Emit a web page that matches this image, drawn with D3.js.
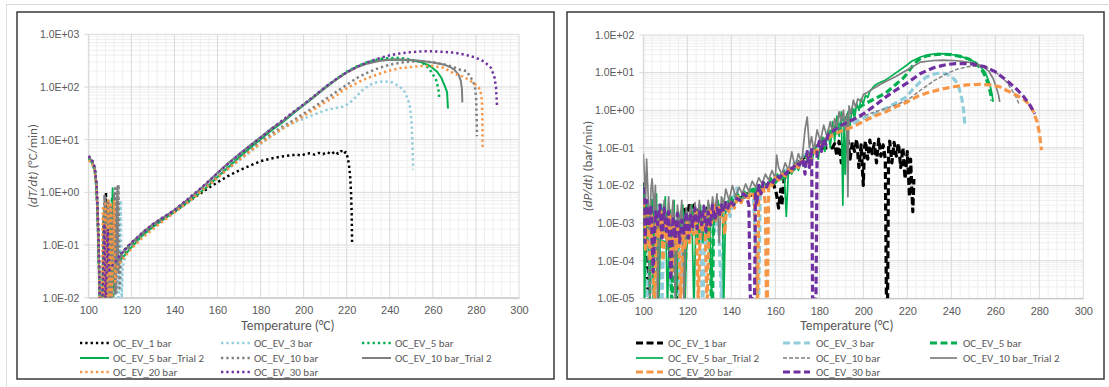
<!DOCTYPE html>
<html><head><meta charset="utf-8">
<script src="https://cdn.jsdelivr.net/npm/d3@7/dist/d3.min.js"></script>
<style>
body{margin:0;background:#fff;}
svg{display:block;font-family:Carlito,Calibri,Lato,"Liberation Sans",sans-serif;}
</style></head><body>
<svg id="chart" width="1109" height="387"></svg>
<script>
// ---- series definitions ----
const seriesNames = ["OC_EV_1 bar","OC_EV_3 bar","OC_EV_5 bar","OC_EV_5 bar_Trial 2","OC_EV_10 bar","OC_EV_10 bar_Trial 2","OC_EV_20 bar","OC_EV_30 bar"];
const seriesColors = ["#000000","#92cddc","#00b050","#00b050","#7f7f7f","#7f7f7f","#f79646","#7030a0"];
const xTickValues = [100,120,140,160,180,200,220,240,260,280,300];
const yTicksRate = [1e-2,1e-1,1e0,1e1,1e2,1e3];
const yTicksPressure = [1e-5,1e-4,1e-3,1e-2,1e-1,1e0,1e1,1e2];

// ---- temperature rate dT/dt (°C/min) vs temperature (°C) ----
const dTdt_1bar = [[100,4.7],[101,4.3],[102,3.7],[103,2.8],[103.8,1.4],[104.4,0.35],[104.9,0.06],[105.3,0.008],[106.5,0.004],[107.2,0.35],[107.6,0.007],[108.2,1.0],[108.7,0.006],[109.5,0.3],[110,0.008],[111,0.045],[112,0.05],[115,0.068],[120,0.11],[125,0.16],[130,0.23],[135,0.32],[140,0.43],[145,0.6],[150,0.84],[155,1.15],[160,1.55],[165,2.05],[170,2.6],[175,3.2],[180,3.9],[185,4.4],[190,4.8],[195,5.1],[197,5.2],[199,5.0],[201,5.4],[203,5.5],[205,5.2],[207,5.6],[209,5.3],[211,5.8],[213,5.3],[214.5,6.0],[216,5.4],[217.5,6.1],[218.5,5.4],[219.5,5.8],[220.3,4.8],[221,3.5],[221.6,2.0],[222,1.0],[222.3,0.4],[222.5,0.1]];
const dTdt_3bar = [[100,4.4],[101,4.1],[102,3.5],[103,2.6],[103.8,1.2],[104.4,0.3],[104.9,0.05],[105.4,0.007],[106.5,0.005],[107,0.15],[107.5,0.006],[108.5,0.4],[109,0.007],[110,0.3],[110.5,0.006],[112,0.2],[112.5,0.006],[113.5,0.5],[114,0.008],[115,0.7],[115.5,0.01],[116,0.04],[118,0.075],[120,0.092],[125,0.145],[130,0.215],[135,0.3],[140,0.42],[145,0.6],[150,0.87],[155,1.28],[160,1.9],[165,2.8],[170,4.0],[175,5.8],[180,8.3],[185,11.5],[190,16],[195,21],[200,25],[205,30],[210,36],[215,40],[218,42],[220,46],[222,53],[224.5,66],[227,85],[230.7,110],[234,123],[237.7,128],[241,122],[244.6,102],[247,80],[248.5,57],[249.5,40],[250,24],[250.4,12],[250.7,5],[250.8,2.7]];
const dTdt_5bar = [[100,4.5],[101,4.2],[102,3.6],[103,2.7],[103.8,1.3],[104.4,0.3],[104.9,0.05],[105.4,0.007],[106.5,0.005],[107.5,0.5],[108,0.008],[109,0.3],[109.5,0.007],[111,0.8],[111.5,0.01],[112.5,0.04],[115,0.062],[120,0.1],[125,0.16],[130,0.24],[135,0.33],[140,0.45],[145,0.65],[150,0.95],[155,1.45],[160,2.3],[165,3.5],[170,5.2],[175,7.6],[180,11],[185,16],[190,22],[195,32],[200,46],[205,67],[210,98],[215,140],[220,195],[225,250],[230,300],[235,340],[240,355],[243,358],[247,345],[250,330],[253,310],[255,290],[258,230],[260,175],[261.5,135],[262.5,95],[263,62]];
const dTdt_5barTrial2 = [[100,4.3],[101,4.0],[102,3.4],[103,2.5],[103.8,1.1],[104.4,0.25],[104.9,0.04],[105.4,0.006],[107,0.005],[108,0.6],[108.5,0.008],[110,0.4],[110.5,0.01],[111.3,1.2],[111.6,0.015],[112,0.02],[113,0.05],[115,0.052],[120,0.09],[125,0.15],[130,0.22],[135,0.31],[140,0.43],[145,0.6],[150,0.85],[155,1.25],[160,1.95],[165,3.0],[170,4.6],[175,6.9],[180,10.2],[185,15],[190,21],[195,31],[200,45],[205,65],[210,96],[215,138],[220,190],[225,245],[230,290],[235,320],[240,332],[245,330],[250,320],[255,295],[259,245],[262,195],[264,148],[265.5,105],[266.6,80],[267,39]];
const dTdt_10bar = [[100,4.8],[101,4.4],[102,3.8],[103,2.9],[103.8,1.5],[104.4,0.4],[104.9,0.07],[105.4,0.008],[106.5,0.006],[107.5,0.9],[108,0.01],[109,0.7],[109.5,0.01],[110.5,0.6],[111,0.01],[112.5,1.2],[113,0.012],[114,1.4],[114.5,0.015],[115,0.05],[117,0.075],[120,0.1],[125,0.16],[130,0.23],[135,0.32],[140,0.44],[145,0.62],[150,0.9],[155,1.32],[160,1.95],[165,2.9],[170,4.3],[175,6.3],[180,9.2],[185,13],[190,17.5],[195,23],[200,31],[205,42],[210,58],[215,80],[220,110],[225,150],[230,190],[235,230],[240,265],[245,290],[250,305],[255,305],[260,295],[265,270],[270,235],[273,210],[275.7,200],[278.7,128],[279.6,95],[280.1,60],[280.3,30],[280.5,11.6]];
const dTdt_10barTrial2 = [[100,4.6],[101,4.3],[102,3.7],[103,2.8],[103.8,1.4],[104.4,0.35],[104.9,0.06],[105.4,0.008],[107,0.007],[108,0.8],[108.4,0.01],[109.5,0.7],[110,0.01],[112,0.9],[112.4,0.012],[113.5,1.3],[113.8,0.03],[115,0.065],[120,0.11],[125,0.17],[130,0.25],[135,0.34],[140,0.46],[145,0.67],[150,0.98],[155,1.5],[160,2.35],[165,3.6],[170,5.3],[175,7.7],[180,11],[185,16],[190,22],[195,32],[200,46],[205,66],[210,97],[215,138],[220,188],[225,238],[230,280],[235,310],[240,328],[245,332],[250,325],[255,312],[260,292],[265,268],[268,240],[270,212],[272,170],[273,130],[273.5,90],[273.7,51]];
const dTdt_20bar = [[100,4.0],[101,3.8],[102,3.3],[103,2.5],[103.8,1.2],[104.4,0.3],[104.9,0.05],[105.4,0.006],[106.2,0.005],[106.8,0.5],[107.2,0.006],[108,0.6],[108.5,0.007],[109.3,0.7],[109.8,0.008],[110.5,0.65],[111,0.01],[112,0.7],[112.4,0.02],[113,0.035],[115,0.048],[120,0.085],[125,0.135],[130,0.2],[135,0.29],[140,0.41],[145,0.59],[150,0.86],[155,1.27],[160,1.9],[165,2.8],[170,4.1],[175,5.9],[180,8.5],[185,11.8],[190,16],[195,21],[200,28],[205,38],[210,51],[215,68],[218,85],[222,105],[226,127],[230,150],[234,171],[238,195],[241.6,213],[245,228],[250,240],[255,250],[260,250],[265,232],[270,178],[274,158],[277,135],[280,110],[282,90],[282.8,55],[283,25],[283.1,6.5]];
const dTdt_30bar = [[100,4.9],[101,4.5],[102,3.9],[103,3.0],[103.8,1.5],[104.4,0.4],[104.9,0.07],[105.4,0.008],[106.5,0.006],[107.5,0.25],[108,0.007],[109,0.2],[109.5,0.03],[110,0.035],[111,0.04],[112,0.045],[115,0.066],[120,0.11],[125,0.17],[130,0.25],[135,0.34],[140,0.46],[145,0.68],[150,1.0],[155,1.5],[160,2.3],[165,3.5],[170,5.2],[175,7.6],[180,11],[185,16],[190,23],[195,33],[200,47],[205,68],[210,100],[215,140],[220,190],[225,245],[230,300],[235,350],[240,400],[245,435],[250,460],[255,475],[260,475],[265,465],[270,448],[275,410],[280,360],[284,300],[287,230],[288.5,160],[289.3,100],[289.6,60],[289.8,43]];

// ---- pressure rate dP/dt (bar/min) vs temperature (°C) ----
const dPdt_1bar = [[100,0.012],[100.5,0.002],[101,0.0002],[101.5,0.00005],[102,0.00002],[102.5,0.000008],[104,0.000003],[110,0.000002],[115,0.000003],[116,0.0003],[117,0.0015],[118,0.0009],[119,0.0028],[120,0.0012],[121,0.0035],[122,0.0015],[123,0.003],[124,0.001],[125,0.0022],[127,0.0018],[129,0.0025],[131,0.0022],[133,0.003],[135,0.0028],[137,0.0035],[139,0.0032],[141,0.0045],[143,0.004],[145,0.005],[147,0.006],[149,0.0055],[151,0.007],[153,0.0075],[155,0.009],[157,0.011],[159,0.012],[160.5,0.006],[161.5,0.0025],[162.5,0.008],[163,0.003],[164,0.015],[166,0.022],[168,0.03],[170,0.04],[172,0.05],[174,0.06],[176,0.07],[178,0.08],[180,0.09],[182,0.1],[184,0.1],[186,0.1],[187,0.13],[188,0.06],[189,0.15],[190,0.04],[191,0.12],[192,0.07],[193,0.16],[194,0.05],[195,0.14],[196,0.08],[197,0.17],[198,0.03],[199,0.12],[200,0.01],[200.5,0.1],[201,0.15],[202,0.05],[203,0.16],[204,0.07],[205,0.13],[206,0.04],[207,0.17],[208,0.06],[209,0.12],[210,0.05],[210.5,0.00001],[211,0.000005],[211.5,0.1],[212,0.15],[213,0.04],[214,0.14],[215,0.06],[216,0.13],[217,0.03],[218,0.1],[219,0.015],[220,0.08],[221,0.005],[221.5,0.05],[222,0.01],[222.5,0.002],[223,0.015]];
const dPdt_3bar = [[100,0.003],[100.7,0.0001],[101.5,0.00001],[102.5,0.00003],[103.5,0.0005],[104.5,0.000005],[105.5,0.0008],[106.5,0.0002],[107.5,0.0012],[108.5,0.000008],[109.5,0.0015],[110.5,0.0004],[111.5,0.001],[112.5,0.00002],[113.5,0.0008],[114.5,0.0002],[115.5,0.0009],[116.5,0.000005],[117.5,0.0006],[118.5,0.0002],[119.5,0.001],[121,0.0004],[122.5,0.0015],[124,0.0006],[125.5,0.002],[127,0.000005],[128,0.0008],[129.5,0.0002],[131,0.0015],[132.5,0.0006],[134,0.002],[135.5,0.000008],[136.5,0.0012],[138,0.003],[139.5,0.0015],[141,0.005],[142.5,0.0085],[143.5,0.004],[145,0.006],[146.5,0.005],[148,0.007],[150,0.006],[151.5,0.0001],[152,0.000005],[152.5,0.00001],[153.2,0.007],[154.5,0.0075],[156,0.011],[158,0.012],[160,0.016],[162,0.018],[164,0.024],[166,0.028],[168,0.036],[170,0.045],[172,0.055],[174,0.07],[176,0.085],[178,0.1],[180,0.12],[183,0.16],[186,0.21],[189,0.27],[192,0.35],[195,0.45],[200,0.6],[205,0.8],[210,1.1],[215,1.6],[219.7,2.26],[222.5,3.6],[225.8,5.6],[228.5,7.5],[231,8.8],[234.8,9.8],[237.5,9.4],[240,8.0],[242,6.0],[243.5,4.0],[244.8,2.0],[245.6,1.0],[246.2,0.38]];
const dPdt_5bar = [[100,0.006],[101,0.0002],[102,0.003],[103,0.0008],[104,0.004],[105,0.000006],[106,0.002],[107,0.0006],[108,0.003],[109,0.0002],[110,0.0018],[111,0.0007],[112,0.0025],[113,0.000005],[114,0.0012],[115,0.0004],[116,0.0015],[117,0.0006],[118,0.002],[119,0.00005],[120,0.0015],[121,0.0007],[122,0.002],[123,0.0009],[124,0.0025],[125,0.0003],[126,0.002],[127,0.001],[128,0.0022],[129,0.0004],[130,0.002],[131,0.000005],[131.5,0.00001],[132,0.002],[133,0.0012],[134,0.003],[135,0.0015],[136,0.0035],[137,0.002],[138,0.004],[140,0.0035],[142,0.005],[144,0.0045],[146,0.006],[148,0.0055],[150,0.008],[152,0.007],[154,0.01],[156,0.009],[158,0.013],[160,0.012],[162,0.017],[164,0.016],[166,0.022],[168,0.025],[170,0.035],[172,0.045],[174,0.06],[176,0.075],[178,0.1],[180,0.14],[182,0.18],[184,0.24],[186,0.3],[188,0.4],[190,0.5],[193,0.7],[196,1.0],[200,1.4],[205,2.0],[210,2.8],[215,5.0],[218,7.0],[220,9.5],[222,14],[224,19],[226,24],[229,28],[232,30],[236,31],[240,30],[244,27],[248,23],[251,18],[253.5,13],[255.5,8],[257,4.5],[258,2.5],[258.4,1.8]];
const dPdt_5barTrial2 = [[100,0.01],[100.5,0.000005],[101.5,0.003],[102.5,0.0001],[103,0.000005],[104,0.004],[105,0.0005],[106,0.006],[107,0.000005],[108,0.003],[109,0.001],[110,0.005],[111,0.000005],[112,0.002],[113,0.0005],[114,0.004],[115,0.000005],[116,0.002],[117,0.0006],[118,0.003],[119,0.000008],[120,0.0015],[121,0.0005],[122,0.003],[123,0.000005],[124,0.002],[125,0.0008],[126,0.003],[127,0.0003],[128,0.0025],[129,0.0009],[130,0.003],[131,0.00001],[132,0.0025],[133,0.0012],[134,0.004],[135,0.0015],[136,0.0045],[136.5,0.000005],[137.5,0.0035],[139,0.002],[140,0.005],[141.5,0.003],[143,0.006],[144.5,0.004],[146,0.007],[147.5,0.005],[149,0.008],[150.5,0.006],[152,0.01],[153.5,0.007],[155,0.012],[156.5,0.009],[158,0.016],[159.5,0.011],[161,0.02],[162.5,0.014],[164,0.025],[165,0.0015],[166,0.028],[167.5,0.02],[169,0.04],[170.5,0.025],[172,0.05],[173.5,0.03],[175,0.07],[176.5,0.04],[178,0.1],[179.5,0.05],[181,0.2],[182.5,0.08],[184,0.3],[185,0.1],[186,0.5],[187,0.15],[188,0.7],[189,0.2],[190,0.9],[190.7,0.003],[191.3,0.6],[191.8,0.02],[192.5,0.3],[193,0.9],[194,0.4],[195,1.2],[196,0.6],[197,1.5],[198,1.0],[199,2.0],[200,1.5],[201,2.5],[202,2.2],[203,3.2],[205,4.5],[207,5.3],[210,6.3],[215,10],[219.7,15.7],[222,20],[226,26],[230,30],[234,32],[238,31.5],[242,29],[246,25],[250,20],[253,15],[255.5,10],[257.5,5],[258.5,2.7],[259,1.66]];
const dPdt_10bar = [[100,0.005],[101,0.0004],[102,0.003],[103,0.000005],[104,0.002],[105,0.0006],[106,0.0025],[107,0.0003],[108,0.002],[109,0.0007],[110,0.0025],[111,0.0002],[112,0.0015],[113,0.0005],[114,0.002],[115,0.0001],[116,0.0012],[117,0.0004],[118,0.0015],[119,0.0006],[120,0.002],[122,0.0007],[124,0.002],[126,0.001],[128,0.0025],[130,0.0012],[132,0.003],[134,0.0015],[136,0.0035],[138,0.002],[140,0.004],[142,0.0035],[144,0.005],[146,0.0045],[148,0.006],[150,0.0055],[152,0.008],[154,0.007],[156,0.01],[158,0.011],[160,0.015],[162,0.016],[164,0.022],[166,0.025],[168,0.032],[170,0.04],[172,0.05],[174,0.065],[176,0.08],[178,0.11],[180,0.14],[183,0.19],[186,0.26],[189,0.33],[192,0.42],[195,0.54],[200,0.7],[205,0.9],[210,1.1],[215,1.4],[220,1.85],[226,3.4],[232,6.0],[238,9.5],[243,12.5],[248,14.5],[252,14.8],[256,13.5],[258,12.5],[262,8.5],[265,5.7],[267.5,3.5],[269.5,2.2],[271,1.36]];
const dPdt_10barTrial2 = [[100,0.07],[100.5,0.02],[101,0.003],[101.5,0.05],[102,0.01],[103,0.0005],[103.5,0.008],[104,0.015],[105,0.002],[105.5,0.01],[106.5,0.000005],[107.5,0.003],[108.5,0.0008],[109.5,0.004],[110.5,0.0003],[111.5,0.005],[112.5,0.0006],[113.5,0.004],[114.5,0.000008],[115.5,0.003],[116.5,0.0008],[117.5,0.004],[118.5,0.000005],[119.5,0.0025],[120.5,0.0009],[121.5,0.003],[122.5,0.0005],[123.5,0.0035],[124.5,0.001],[125.5,0.004],[126.5,0.0004],[127.5,0.003],[128.5,0.001],[129.5,0.004],[130.5,0.0015],[131.5,0.005],[132.5,0.002],[133.5,0.006],[134.5,0.0003],[135.5,0.005],[136.5,0.003],[137.5,0.008],[139,0.004],[140.5,0.01],[142,0.005],[143.5,0.009],[145,0.006],[146.5,0.011],[148,0.007],[149.5,0.013],[151,0.009],[152.5,0.016],[154,0.011],[155.5,0.02],[157,0.014],[158.5,0.025],[160,0.015],[160.6,0.064],[161.5,0.03],[163,0.02],[164.5,0.04],[166,0.025],[167.5,0.078],[169,0.03],[170.5,0.07],[172,0.04],[173.5,0.3],[174.5,0.66],[175.5,0.1],[176.5,0.2],[177.5,0.08],[179,0.3],[180.5,0.15],[182,0.4],[183.5,0.2],[185,0.5],[186,0.25],[187,0.6],[188,0.35],[189,0.9],[190,0.5],[191,1.0],[191.8,0.3],[192.5,0.8],[193,0.005],[193.5,1.3],[194.5,0.8],[195.5,1.85],[196.5,1.2],[197.5,2.0],[199,1.7],[200,2.6],[202,3.0],[204,3.6],[206,4.2],[208,5.0],[210,5.7],[215,8.0],[219.7,11.6],[226,19],[232,21],[236,21.5],[241,21],[245,20],[250,18],[254,15],[257,11],[259,7],[260.5,4],[261.5,2.5],[262,1.66]];
const dPdt_20bar = [[100,0.004],[101,0.0002],[102,0.002],[103,0.0001],[104,0.0015],[105,0.000005],[106,0.001],[107,0.0004],[108,0.002],[109,0.0001],[110,0.0012],[111,0.0003],[112,0.0018],[113,0.00005],[114,0.001],[115,0.0002],[116,0.0008],[117,0.000005],[118,0.0006],[119,0.0002],[120,0.001],[121,0.0003],[122,0.0015],[123,0.0005],[124,0.002],[125,0.000008],[126,0.0012],[127,0.0006],[128,0.002],[129,0.000005],[130,0.0025],[131,0.001],[132,0.003],[133,0.0012],[134,0.003],[135,0.0015],[136,0.0028],[137,0.0005],[138,0.0035],[139,0.002],[140,0.004],[141.5,0.0025],[143,0.005],[144.5,0.0035],[146,0.006],[147.5,0.004],[149,0.007],[150.5,0.005],[151.3,0.0001],[151.6,0.000005],[152,0.00001],[152.5,0.008],[153.5,0.006],[154.5,0.01],[155.5,0.003],[156,0.000005],[156.4,0.00001],[157,0.012],[158.5,0.01],[160,0.016],[161.5,0.014],[163,0.02],[164.5,0.018],[166,0.026],[167.5,0.024],[169,0.034],[170.5,0.03],[172,0.045],[173.5,0.04],[175,0.06],[176.5,0.055],[178,0.08],[179.5,0.09],[181,0.12],[183,0.15],[185,0.2],[190,0.28],[195,0.36],[200,0.5],[205,0.7],[210,0.9],[215,1.25],[220,1.66],[225,2.4],[230,3.0],[235,3.6],[241,4.2],[247,4.7],[253,4.9],[258,4.7],[262,4.2],[265,3.4],[269,2.6],[272.7,2.0],[275,1.5],[277,1.0],[279,0.5],[280,0.25],[281,0.087]];
const dPdt_30bar = [[100,0.009],[100.8,0.0003],[101.5,0.004],[102.5,0.0008],[103.5,0.003],[104.5,0.00005],[105.5,0.002],[106.5,0.0009],[107.5,0.003],[108.5,0.0004],[109.5,0.0025],[110.5,0.0006],[111.5,0.002],[112.5,0.00003],[113.5,0.0015],[114.5,0.0004],[115.5,0.0018],[116.5,0.0003],[117.5,0.0012],[118.5,0.0005],[119.5,0.002],[120.5,0.0004],[121.5,0.0016],[122.5,0.0008],[123.5,0.0025],[124.5,0.0007],[125.5,0.002],[126.5,0.0009],[127.5,0.0028],[128.5,0.0006],[129.5,0.002],[130.5,0.0009],[131.5,0.003],[132.5,0.0012],[133.5,0.0025],[134.5,0.0015],[135.5,0.003],[136.5,0.002],[137.5,0.0035],[138.5,0.0025],[139.5,0.004],[141,0.003],[142.5,0.0045],[144,0.004],[145.5,0.006],[147,0.005],[148,0.003],[148.5,0.00002],[149,0.000005],[149.5,0.00001],[150.5,0.000005],[151,0.006],[151.5,0.003],[152.5,0.01],[153.5,0.006],[154.5,0.012],[156,0.009],[157.5,0.014],[159,0.012],[160.5,0.018],[162,0.016],[163.5,0.022],[165,0.02],[166.5,0.03],[168,0.028],[169.5,0.04],[171,0.035],[172.5,0.05],[173.5,0.02],[174.5,0.08],[175.5,0.03],[176.5,0.1],[177,0.000005],[177.5,0.00001],[178,0.000005],[178.5,0.00001],[179,0.09],[180,0.15],[181,0.08],[182,0.18],[183,0.12],[184,0.22],[185,0.25],[190,0.4],[195,0.55],[200,0.8],[205,1.3],[210,2.2],[215,3.5],[220,5.3],[226,9.5],[232,13.5],[238,16.5],[242,17.3],[246,17.4],[250,16.8],[255,14.5],[260,10.5],[265,6.3],[270,3.5],[273,2.26],[276,1.3],[278,0.8]];

const rateSeries = [dTdt_1bar,dTdt_3bar,dTdt_5bar,dTdt_5barTrial2,dTdt_10bar,dTdt_10barTrial2,dTdt_20bar,dTdt_30bar];
const pressureSeries = [dPdt_1bar,dPdt_3bar,dPdt_5bar,dPdt_5barTrial2,dPdt_10bar,dPdt_10barTrial2,dPdt_20bar,dPdt_30bar];

// line styles: dotted markers for the temperature chart, dashes for the pressure chart
const dotted = {w:2.5, dash:"2.3,3"};
const solid = {w:2, dash:null};
const rateStyles = [dotted,dotted,dotted,solid,dotted,solid,dotted,dotted];
const dashed = {w:3.2, dash:"7,3.5"};
const thinDashed = {w:1.4, dash:"4,2"};
const pressureStyles = [dashed,dashed,dashed,{w:1.7,dash:null},thinDashed,{w:1.7,dash:null},dashed,dashed];

const svg = d3.select("#chart");
const textColor = "#595959";

// faint page frame
svg.append("line").attr("x1",6).attr("x2",1108).attr("y1",4.5).attr("y2",4.5).attr("stroke","#d6d6d6");
svg.append("line").attr("x1",6.5).attr("x2",6.5).attr("y1",4).attr("y2",387).attr("stroke","#e0e0e0");

function fmtE(v){
  const e = Math.round(Math.log10(v));
  return "1.0E" + (e < 0 ? "-" : "+") + String(Math.abs(e)).padStart(2,"0");
}

function drawPanel(cfg){
  const g = svg.append("g");
  g.append("rect").attr("x",cfg.frame[0]).attr("y",cfg.frame[1])
    .attr("width",cfg.frame[2]-cfg.frame[0]).attr("height",cfg.frame[3]-cfg.frame[1])
    .attr("fill","#fff").attr("stroke","#3a3a3a").attr("stroke-width",1.5);

  const x = d3.scaleLinear().domain([100,300]).range([cfg.plot[0],cfg.plot[2]]);
  const y = d3.scaleLog().domain(cfg.yDomain).range([cfg.plot[3],cfg.plot[1]]);

  // minor grid
  const grid = g.append("g");
  for (let t = 100; t <= 300; t += 4) {
    if (t % 20 === 0) continue;
    grid.append("line").attr("x1",x(t)).attr("x2",x(t)).attr("y1",cfg.plot[1]).attr("y2",cfg.plot[3])
      .attr("stroke","#efefef").attr("stroke-width",1);
  }
  const e0 = Math.round(Math.log10(cfg.yDomain[0])), e1 = Math.round(Math.log10(cfg.yDomain[1]));
  for (let e = e0; e < e1; e++) {
    for (let k = 2; k <= 9; k++) {
      const v = k * Math.pow(10, e);
      grid.append("line").attr("x1",cfg.plot[0]).attr("x2",cfg.plot[2]).attr("y1",y(v)).attr("y2",y(v))
        .attr("stroke","#efefef").attr("stroke-width",1);
    }
  }
  // major grid
  xTickValues.forEach(t => {
    grid.append("line").attr("x1",x(t)).attr("x2",x(t)).attr("y1",cfg.plot[1]).attr("y2",cfg.plot[3])
      .attr("stroke","#d9d9d9").attr("stroke-width",1);
  });
  cfg.yTicks.forEach(v => {
    grid.append("line").attr("x1",cfg.plot[0]-4).attr("x2",cfg.plot[2]).attr("y1",y(v)).attr("y2",y(v))
      .attr("stroke","#d9d9d9").attr("stroke-width",1);
  });

  // axes
  const xAxis = d3.axisBottom(x).tickValues(xTickValues).tickSize(0).tickPadding(9).tickFormat(d3.format("d"));
  g.append("g").attr("transform",`translate(0,${cfg.plot[3]})`).call(xAxis)
    .call(s => s.select(".domain").attr("stroke","#bfbfbf"))
    .call(s => s.selectAll("text").attr("fill",textColor).attr("font-size",11).attr("font-family",null));
  const yAxis = d3.axisLeft(y).tickValues(cfg.yTicks).tickSize(0).tickPadding(9).tickFormat(fmtE);
  g.append("g").attr("transform",`translate(${cfg.plot[0]},0)`).call(yAxis)
    .call(s => s.select(".domain").attr("stroke","#d9d9d9"))
    .call(s => s.selectAll("text").attr("fill",textColor).attr("font-size",10.5).attr("font-family",null));

  // series
  const clipId = "clip" + cfg.id;
  g.append("clipPath").attr("id",clipId).append("rect")
    .attr("x",cfg.plot[0]).attr("y",cfg.plot[1]-1).attr("width",cfg.plot[2]-cfg.plot[0]).attr("height",cfg.plot[3]-cfg.plot[1]+1);
  const line = d3.line().x(d => x(d[0])).y(d => y(d[1]));
  const lines = g.append("g").attr("clip-path",`url(#${clipId})`);
  cfg.series.forEach((data,i) => {
    const st = cfg.styles[i];
    lines.append("path").attr("d",line(data)).attr("fill","none")
      .attr("stroke",seriesColors[i]).attr("stroke-width",st.w)
      .attr("stroke-dasharray",st.dash).attr("stroke-linejoin","round");
  });

  // axis titles
  g.append("text").attr("x",cfg.xTitleX).attr("y",330).attr("text-anchor","middle")
    .attr("fill",textColor).attr("font-size",13.5).text("Temperature (°C)");
  const yt = g.append("text").attr("transform",`translate(${cfg.yTitleX},166) rotate(-90)`)
    .attr("text-anchor","middle").attr("fill",textColor).attr("font-size",13);
  yt.append("tspan").attr("font-style","italic").text(cfg.yTitle[0]);
  yt.append("tspan").text(cfg.yTitle[1]);

  // legend
  const rows = [343,358,372];
  seriesNames.forEach((name,i) => {
    const r = Math.floor(i/3), c = i % 3;
    const st = cfg.styles[i];
    const sx = cfg.legendSample[c], ly = rows[r];
    g.append("line").attr("x1",sx).attr("x2",sx+cfg.sampleLen).attr("y1",ly).attr("y2",ly)
      .attr("stroke",seriesColors[i]).attr("stroke-width",st.w).attr("stroke-dasharray",st.dash);
    g.append("text").attr("x",cfg.legendText[c]).attr("y",ly+4).attr("fill",textColor)
      .attr("font-size",11).text(name);
  });
}

drawPanel({
  id:"Rate", frame:[17,12,554,379], plot:[88.3,34.3,519,297.7],
  yDomain:[1e-2,1e3], yTicks:yTicksRate, series:rateSeries, styles:rateStyles,
  xTitleX:288, yTitleX:37, yTitle:["(dT/dt)","  (°C/min)"],
  legendSample:[80,221,362], legendText:[113,254,395], sampleLen:29
});
drawPanel({
  id:"Pressure", frame:[567,12,1104,379], plot:[643.3,35,1083.3,298.3],
  yDomain:[1e-5,1e2], yTicks:yTicksPressure, series:pressureSeries, styles:pressureStyles,
  xTitleX:847, yTitleX:592, yTitle:["(dP/dt)"," (bar/min)"],
  legendSample:[636,783,930], legendText:[668,816,963], sampleLen:27
});
</script>
</body></html>
